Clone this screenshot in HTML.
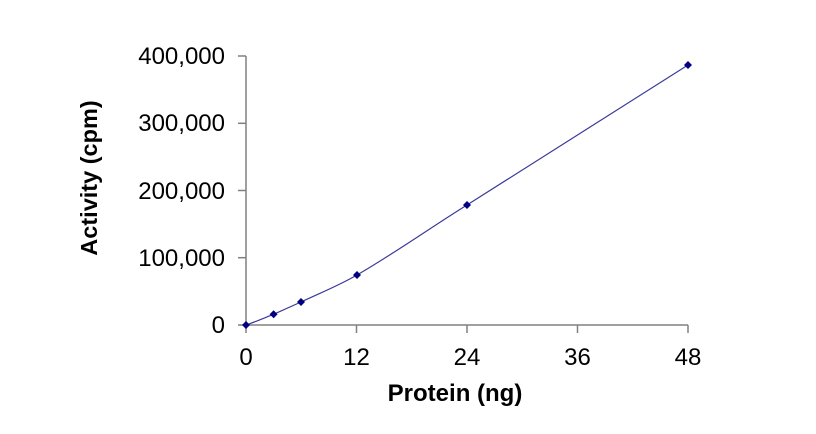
<!DOCTYPE html>
<html><head><style>body{margin:0;background:#fff}</style></head><body>
<svg width="816" height="429" xmlns="http://www.w3.org/2000/svg" font-family="Liberation Sans, Arial, sans-serif">
<rect width="816" height="429" fill="#fff"/>
<g stroke="#808080" stroke-width="1.5" fill="none">
<line x1="246" y1="56" x2="246" y2="325"/>
<line x1="246" y1="325" x2="688" y2="325"/>
<line x1="238" y1="56" x2="246" y2="56"/>
<line x1="238" y1="123.3" x2="246" y2="123.3"/>
<line x1="238" y1="190.5" x2="246" y2="190.5"/>
<line x1="238" y1="257.7" x2="246" y2="257.7"/>
<line x1="238" y1="325" x2="246" y2="325"/>
<line x1="246" y1="325" x2="246" y2="333"/>
<line x1="356.5" y1="325" x2="356.5" y2="333"/>
<line x1="467" y1="325" x2="467" y2="333"/>
<line x1="577.5" y1="325" x2="577.5" y2="333"/>
<line x1="688" y1="325" x2="688" y2="333"/>
</g>
<g font-size="24" fill="#000" text-anchor="end">
<text x="225" y="64">400,000</text>
<text x="225" y="131">300,000</text>
<text x="225" y="199">200,000</text>
<text x="225" y="266">100,000</text>
<text x="225" y="333">0</text>
</g>
<g font-size="24" fill="#000" text-anchor="middle">
<text x="246" y="365">0</text>
<text x="356.5" y="365">12</text>
<text x="467" y="365">24</text>
<text x="577.5" y="365">36</text>
<text x="688" y="365">48</text>
</g>
<text x="455" y="401" font-size="24" font-weight="bold" text-anchor="middle">Protein (ng)</text>
<text transform="translate(97,178) rotate(-90)" font-size="23.5" font-weight="bold" text-anchor="middle">Activity (cpm)</text>
<path d="M246,325 C255,322 264,318 273.6,314.3 C283,310 292,306 301,302 C320,293 338,286 357,275 C395,253 430,228 467,205 L688,65" stroke="#3a3a9a" stroke-width="1.2" fill="none"/>
<g fill="#000080">
<path d="M246,321 l4,4 -4,4 -4,-4z"/>
<path d="M273.6,310.3 l4,4 -4,4 -4,-4z"/>
<path d="M301,298 l4,4 -4,4 -4,-4z"/>
<path d="M357,271 l4,4 -4,4 -4,-4z"/>
<path d="M467,201 l4,4 -4,4 -4,-4z"/>
<path d="M688,61 l4,4 -4,4 -4,-4z"/>
</g>
</svg>
</body></html>
